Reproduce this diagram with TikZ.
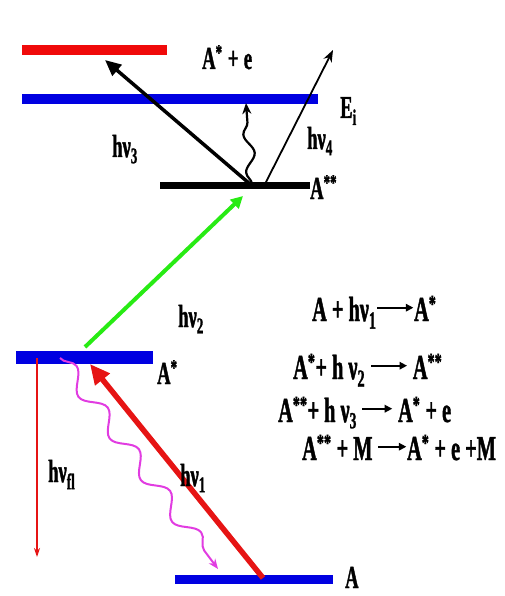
\documentclass[tikz,border=0pt]{standalone}
\usepackage{fontspec}
\usepackage{graphicx}
\setmainfont{Liberation Serif}
\newfontfamily\lblfont[FakeStretch=0.58,BoldFeatures={FakeBold=1.2}]{Liberation Serif}
\usetikzlibrary{arrows.meta,decorations.pathmorphing}
\definecolor{barred}{RGB}{240,10,10}
\definecolor{barblue}{RGB}{0,0,225}
\definecolor{arrred}{RGB}{230,20,20}
\definecolor{arrgreen}{RGB}{40,235,20}
\definecolor{arrmag}{RGB}{225,60,225}
\newcommand\eqarr[1]{\tikz[baseline=-0.38em]{\draw[line width=1.6pt,-{Triangle[length=7.5pt,width=7.5pt]}] (0pt,0pt) -- (#1pt,0pt);}}
\newcommand\lowsub[1]{\raisebox{-0.18em}{\scalebox{0.66}{#1}}}
\tikzset{
  bar/.style={rectangle,inner sep=0pt,outer sep=0pt,draw=none},
  lab/.style={anchor=base west,inner sep=0pt,font=\lblfont\bfseries\fontsize{32}{34}\selectfont},
  eq/.style={anchor=base west,inner sep=0pt,font=\lblfont\bfseries\fontsize{35}{37}\selectfont},
}
\begin{document}
\begin{tikzpicture}[x=1pt,y=-1pt]
\useasboundingbox (0,0) rectangle (504,596);
% energy levels
\node[bar,fill=barred,minimum width=145pt,minimum height=10pt] (lion) at (94.5,50) {};
\node[bar,fill=barblue,minimum width=296pt,minimum height=10pt] (lEi) at (170,99) {};
\node[bar,fill=black,minimum width=150pt,minimum height=7pt] (lA2) at (235,185.5) {};
\node[bar,fill=barblue,minimum width=137pt,minimum height=13pt] (lA1) at (84.5,357.5) {};
\node[bar,fill=barblue,minimum width=158pt,minimum height=9pt] (lA0) at (254,579.5) {};
% arrow end points
\coordinate (p3s) at (250,184);
\coordinate (p3e) at (105,60);
\coordinate (p4s) at (265,184);
\coordinate (p4e) at (333,50);
\coordinate (pws) at (252,184);
\coordinate (pwe) at (246,103);
\coordinate (p2s) at (85,347);
\coordinate (p2e) at (243,196);
\coordinate (p1s) at (263,578);
\coordinate (p1e) at (90,364);
\coordinate (pfs) at (37,358);
\coordinate (pfe) at (37,557);
\coordinate (pms) at (60,358);
\coordinate (pme) at (218,569);
% arrows
\draw[line width=3.5pt,-{Triangle[length=16pt,width=14pt]}] (p3s) -- (p3e);
\draw[line width=1.8pt,-{Stealth[length=12pt,width=9pt]}] (p4s) -- (p4e);
\draw[line width=2.2pt,-{Stealth[length=11pt,width=9pt]},decorate,
  decoration={snake,amplitude=5pt,segment length=38pt,post length=10pt}] (pws) -- (pwe);
\draw[arrgreen,line width=4pt,-{Triangle[length=12pt,width=12pt]}] (p2s) -- (p2e);
\draw[arrred,line width=5.5pt,-{Triangle[length=20pt,width=18pt]}] (p1s) -- (p1e);
\draw[arrred,line width=1.4pt,-{Stealth[length=9pt,width=6pt]}] (pfs) -- (pfe);
\draw[arrmag,line width=2pt,-{Stealth[length=10pt,width=8pt]},decorate,
  decoration={snake,amplitude=8.5pt,segment length=52pt,post length=10pt}] (pms) -- (pme);
% labels
\node[lab] (tAe) at (202,69) {A\textsuperscript{*}\,+\,e};
\node[lab] (tEi) at (340,118) {E\textsubscript{i}};
\node[lab] (thv3) at (112,157) {hν\textsubscript{3}};
\node[lab] (thv4) at (307,149) {hν\textsubscript{4}};
\node[lab] (tA2) at (310,199) {A\textsuperscript{**}};
\node[lab] (thv2) at (178,327) {hν\textsubscript{2}};
\node[lab] (tA1) at (157,384) {A\textsuperscript{*}};
\node[lab] (thvfl) at (48,482) {hν\textsubscript{fl}};
\node[lab] (thv1) at (180,486) {hν\textsubscript{1}};
\node[lab] (tA0) at (345,588) {A};
% equations
\node[eq] (e1) at (312,321) {A + hν\textsubscript{1}\eqarr{36}A\textsuperscript{*}};
\node[eq] (e2) at (293,379) {A\textsuperscript{*}+ h ν\textsubscript{2} \eqarr{36} A\textsuperscript{**}};
\node[eq] (e3) at (278,422) {A\textsuperscript{**}+ h ν\lowsub{3} \eqarr{30} A\textsuperscript{*} + e};
\node[eq] (e4) at (302,460) {A\textsuperscript{**} + M \eqarr{28}A\textsuperscript{*} + e +M};
\end{tikzpicture}
\end{document}
